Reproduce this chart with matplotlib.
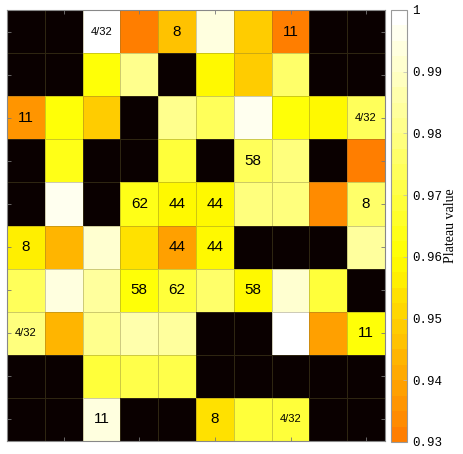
import numpy as np
import matplotlib
matplotlib.use("Agg")
import matplotlib.pyplot as plt
from matplotlib.colors import ListedColormap

nan = np.nan

# Plateau values per cell (NaN = black / no value), row 0 at the top
row0 = [nan, nan, 0.999, 0.930, 0.947, 0.995, 0.949, 0.930, nan, nan]
row1 = [nan, nan, 0.961, 0.981, nan, 0.958, 0.948, 0.976, nan, nan]
row2 = [0.935, 0.962, 0.948, nan, 0.981, 0.974, 0.997, 0.962, 0.960, 0.973]
row3 = [nan, 0.964, nan, nan, 0.969, nan, 0.973, 0.978, nan, 0.930]
row4 = [nan, 0.997, nan, 0.964, 0.959, 0.960, 0.980, 0.980, 0.934, 0.976]
row5 = [0.957, 0.943, 0.992, 0.953, 0.938, 0.960, nan, nan, nan, 0.984]
row6 = [0.974, 0.995, 0.984, 0.962, 0.969, 0.976, 0.958, 0.992, 0.968, nan]
row7 = [0.980, 0.943, 0.981, 0.987, 0.984, nan, nan, 0.999, 0.940, 0.962]
row8 = [nan, nan, 0.969, 0.972, 0.972, nan, nan, nan, nan, nan]
row9 = [nan, nan, 0.995, nan, nan, 0.954, 0.968, 0.968, nan, nan]
valores = np.array([row0, row1, row2, row3, row4, row5, row6, row7, row8, row9])

# Cell annotations: (row, col, text)
rotulos = [
    (0, 2, "4/32"), (0, 4, "8"), (0, 7, "11"),
    (2, 0, "11"), (2, 9, "4/32"),
    (3, 6, "58"),
    (4, 3, "62"), (4, 4, "44"), (4, 5, "44"), (4, 9, "8"),
    (5, 0, "8"), (5, 4, "44"), (5, 5, "44"),
    (6, 3, "58"), (6, 4, "62"), (6, 6, "58"),
    (7, 0, "4/32"), (7, 9, "11"),
    (9, 2, "11"), (9, 5, "8"), (9, 7, "4/32"),
]

vmin, vmax = 0.93, 1.0
cbar_ticks = [0.93, 0.94, 0.95, 0.96, 0.97, 0.98, 0.99, 1.0]
cbar_labels = ["0.93", "0.94", "0.95", "0.96", "0.97", "0.98", "0.99", "1"]

# upper part of "hot", discretised like a MATLAB colormap
cmap = ListedColormap(plt.get_cmap("hot")(np.linspace(0.554, 1.0, 28)))
cmap.set_bad("#0a0000")

W, H = 463, 454
fig = plt.figure(figsize=(W / 100, H / 100), dpi=100)
ax = fig.add_axes([7 / W, 13 / H, 378 / W, 431 / H])
cax = fig.add_axes([391 / W, 12 / H, 16 / W, 432 / H])

n_lin, n_col = valores.shape
mesh = ax.pcolormesh(np.arange(n_col + 1), np.arange(n_lin + 1),
                     np.ma.masked_invalid(valores), cmap=cmap,
                     vmin=vmin, vmax=vmax,
                     edgecolors=(0.45, 0.42, 0.2, 0.35), linewidth=0.4)
ax.set_xlim(0, n_col)
ax.set_ylim(n_lin, 0)

for r, c, txt in rotulos:
    tam = 8 if "/" in txt else 11
    ax.text(c + 0.5, r + 0.5, txt, ha="center", va="center",
            fontsize=tam, family="Liberation Sans", color="black")

ax.set_xticks(np.arange(1, n_col, 2) + 0.5)
ax.set_yticks(np.arange(n_lin) + 0.5)
ax.tick_params(direction="in", length=3, width=0.6, color="#777777",
               top=True, right=True, labelbottom=False, labelleft=False)
for spine in ax.spines.values():
    spine.set_color("#888888")
    spine.set_linewidth(0.8)

cb = fig.colorbar(mesh, cax=cax, ticks=cbar_ticks)
cb.ax.set_yticklabels(cbar_labels, family="Liberation Mono", fontsize=9)
cb.ax.tick_params(direction="in", length=3, width=0.5, color="#bbbbbb")
cb.outline.set_edgecolor("#999999")
cb.outline.set_linewidth(0.8)
cb.set_label("Plateau value", family="Liberation Serif", fontsize=10, rotation=90)
cb.ax.yaxis.set_label_coords(3.75, 0.5)
cb.ax.yaxis.label.set_verticalalignment("center")

fig.savefig("out.png", dpi=100)
